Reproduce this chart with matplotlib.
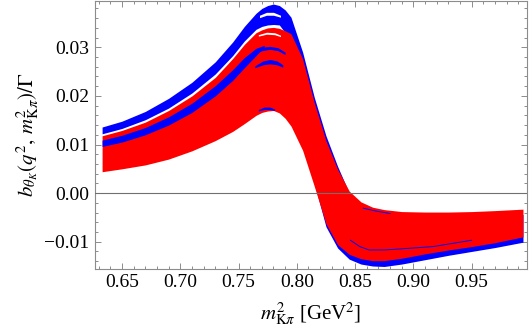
import numpy as np
import matplotlib
matplotlib.use('Agg')
import matplotlib.pyplot as plt
from matplotlib.ticker import MultipleLocator, FuncFormatter

plt.rcParams['font.family'] = ['Liberation Serif', 'DejaVu Serif']
plt.rcParams['mathtext.fontset'] = 'stix'

xs = [0.633, 0.65, 0.67, 0.69, 0.71, 0.73, 0.745, 0.755, 0.765, 0.77, 0.775, 0.78,
      0.785, 0.79, 0.795, 0.805, 0.815, 0.825, 0.835, 0.845, 0.855, 0.865, 0.875,
      0.89, 0.91, 0.93, 0.95, 0.97, 0.994]

blue_hi = [0.0136, 0.0148, 0.0168, 0.0195, 0.0228, 0.0270, 0.0311, 0.0343, 0.0370,
           0.0380, 0.0386, 0.0389, 0.0386, 0.0377, 0.0362, 0.0290, 0.0197, 0.0118,
           0.0055, 0.0000, -0.0030, -0.0040, -0.0046, -0.0049, -0.0050, -0.0050,
           -0.0049, -0.0047, -0.0044]
blue_lo = [0.0122, 0.0133, 0.0151, 0.0175, 0.0206, 0.0245, 0.0283, 0.0313, 0.0337,
           0.0343, 0.0346, 0.0347, 0.0346, 0.0330, 0.0200, 0.0095, 0.0020, -0.0069,
           -0.0113, -0.0136, -0.0146, -0.0150, -0.0151, -0.0146, -0.0137, -0.0128,
           -0.0120, -0.0112, -0.0101]

red_hi = [0.0118, 0.0129, 0.0146, 0.0170, 0.0200, 0.0238, 0.0277, 0.0306, 0.0330,
          0.0336, 0.0340, 0.0341, 0.0339, 0.0334, 0.0328, 0.0276, 0.0186, 0.0108,
          0.0049, 0.0004, -0.0018, -0.0029, -0.0034, -0.0038, -0.0039, -0.0039,
          -0.0038, -0.0036, -0.0033]
red_lo = [0.0044, 0.0050, 0.0058, 0.0070, 0.0087, 0.0108, 0.0127, 0.0143, 0.0160,
          0.0166, 0.0169, 0.0170, 0.0165, 0.0154, 0.0138, 0.0088, 0.0014, -0.0063,
          -0.0106, -0.0126, -0.0135, -0.0139, -0.0139, -0.0134, -0.0125, -0.0117,
          -0.0110, -0.0102, -0.0090]

# second blue strip running inside the red band
b_x = [0.633, 0.65, 0.67, 0.69, 0.71, 0.73, 0.745, 0.755, 0.765, 0.772]
b_hi = [0.0109, 0.0119, 0.0135, 0.0157, 0.0185, 0.0221, 0.0254, 0.0279, 0.0298, 0.0304]
b_lo = [0.0096, 0.0105, 0.0120, 0.0140, 0.0166, 0.0200, 0.0232, 0.0258, 0.0283, 0.0300]

# small blue arcs near the peak
arc1_x = [0.762, 0.770, 0.777, 0.784, 0.790]
arc1_hi = [0.0290, 0.0300, 0.0302, 0.0299, 0.0290]
arc1_lo = [0.0286, 0.0293, 0.0296, 0.0293, 0.0285]
arc2_x = [0.764, 0.771, 0.777, 0.783, 0.788]
arc2_hi = [0.0262, 0.0272, 0.0275, 0.0272, 0.0264]
arc2_lo = [0.0258, 0.0264, 0.0266, 0.0264, 0.0259]
arc3_x = [0.767, 0.772, 0.777, 0.781]
arc3_hi = [0.0172, 0.0177, 0.0177, 0.0173]
arc3_lo = [0.0169, 0.0172, 0.0172, 0.0170]

# white gaps near the peak
gap1_x = [0.768, 0.774, 0.780, 0.786]
gap1_hi = [0.0366, 0.0372, 0.0372, 0.0366]
gap1_lo = [0.0361, 0.0366, 0.0366, 0.0362]
gap2_x = [0.767, 0.774, 0.781, 0.786]
gap2_hi = [0.0326, 0.0331, 0.0330, 0.0325]
gap2_lo = [0.0323, 0.0327, 0.0326, 0.0322]

# thin blue curves inside the red band (negative region)
n1_x = [0.857, 0.868, 0.880]
n1_y = [-0.0031, -0.0037, -0.0042]
n2_x = [0.846, 0.854, 0.862, 0.875, 0.888, 0.917, 0.950]
n2_y = [-0.0097, -0.0110, -0.0117, -0.0117, -0.0115, -0.0110, -0.0097]

xticks = [0.65, 0.70, 0.75, 0.80, 0.85, 0.90, 0.95]
yticks = [-0.01, 0.00, 0.01, 0.02, 0.03]

blue = '#0000ff'
red = '#ff0000'
frame = '#8c8c8c'

fig = plt.figure(figsize=(5.3, 3.32), dpi=100)
ax = fig.add_axes([0.179, 0.19, 0.815, 0.808])

ax.fill_between(xs, blue_lo, blue_hi, color=blue, lw=0, zorder=2)
ax.fill_between(xs, red_lo, red_hi, color=red, lw=0, zorder=3)
ax.fill_between(b_x, b_lo, b_hi, color=blue, lw=0, zorder=4)
for xa, lo, hi in [(arc1_x, arc1_lo, arc1_hi), (arc2_x, arc2_lo, arc2_hi),
                   (arc3_x, arc3_lo, arc3_hi)]:
    ax.fill_between(xa, lo, hi, color=blue, lw=0, zorder=4)
for xa, lo, hi in [(gap1_x, gap1_lo, gap1_hi), (gap2_x, gap2_lo, gap2_hi)]:
    ax.fill_between(xa, lo, hi, color='white', lw=0, zorder=4)
ax.plot(n1_x, n1_y, color=blue, lw=0.7, zorder=4)
ax.plot(n2_x, n2_y, color=blue, lw=0.7, zorder=4)

ax.axhline(0, color='#707070', lw=0.8, zorder=5)

ax.set_xlim(0.6268, 0.9973)
ax.set_ylim(-0.0156, 0.0396)
ax.set_xticks(xticks)
ax.set_yticks(yticks)
ax.xaxis.set_minor_locator(MultipleLocator(0.01))
ax.yaxis.set_minor_locator(MultipleLocator(0.002))
fmt = FuncFormatter(lambda v, p: ('%.2f' % v).replace('-', '\u2212'))
ax.xaxis.set_major_formatter(fmt)
ax.yaxis.set_major_formatter(fmt)

for s in ax.spines.values():
    s.set_color(frame)
    s.set_linewidth(0.8)
ax.tick_params(which='both', direction='in', top=True, right=True,
               color=frame, width=0.7, labelsize=14, pad=4)
ax.tick_params(which='major', length=4.5)
ax.tick_params(which='minor', length=2.5)

ax.set_xlabel(r'$m^2_{\mathrm{K}\pi}$ [GeV$^2$]', fontsize=15, labelpad=6)
ax.set_ylabel(r'$b_{\theta_K}(q^2,\,m^2_{\mathrm{K}\pi})/\Gamma$', fontsize=15, labelpad=2)

fig.savefig('out.png', dpi=100)
